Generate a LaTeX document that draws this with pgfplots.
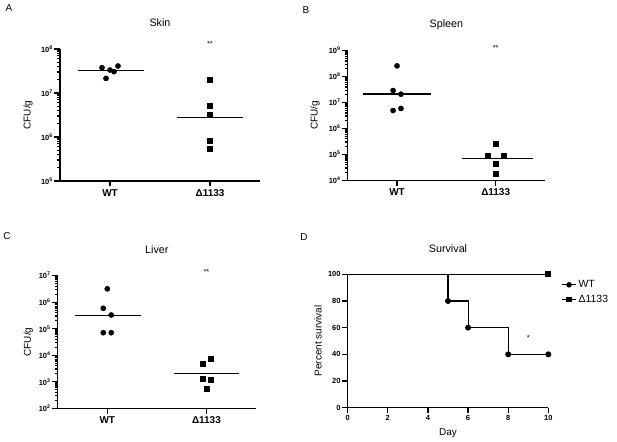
\documentclass[border=0pt]{standalone}
\usepackage{fontspec}
\setmainfont{Liberation Sans}
\usepackage{pgfplots}
\pgfplotsset{compat=1.18}
\pgfplotsset{
  myprism/.style={
    scale only axis,
    axis x line*=bottom, axis y line*=left,
    axis line style={line width=1.3bp, black},
    tick style={line width=1.3bp, black},
    tick align=outside,
    major tick length=5.5bp,
    /pgf/number format/assume math mode=true,
    tick label style={font=\bfseries\fontsize{7.5}{8}\selectfont, inner sep=1.5bp},
    title style={font=\fontsize{10.8}{12}\selectfont, at={(0.5,1)}, anchor=center, yshift=20bp},
    label style={font=\fontsize{10.5}{12}\selectfont},
    clip=false,
  },
  myscat/.style={
    myprism,
    xmin=0.5, xmax=2.5, xtick={1,2}, xticklabels={WT,Δ1133},
    xticklabel style={font=\bfseries\fontsize{10}{11}\selectfont, inner sep=2.5bp},
    ylabel={CFU/g},
    extra y tick labels={},
    extra y tick style={major tick length=3.2bp},
  },
  mymed/.style={black, line width=1.3bp, no marks},
  mywt/.style={only marks, mark=*, mark size=2.6bp, black},
  myko/.style={only marks, mark=square*, mark size=2.5bp, black},
}
\begin{document}
\begin{tikzpicture}
\useasboundingbox (0bp,0bp) rectangle (617bp,-442bp);
\node[font=\fontsize{10}{12}\selectfont] at (9bp,-8bp) {A};
\node[font=\fontsize{10}{12}\selectfont] at (306bp,-10bp) {B};
\node[font=\fontsize{10}{12}\selectfont] at (7bp,-236bp) {C};
\node[font=\fontsize{10}{12}\selectfont] at (304bp,-237bp) {D};

% A Skin
\begin{axis}[ymode=log, myscat, at={(60bp,-181bp)}, anchor=south west, width=200bp, height=132bp,
  title={Skin}, ymin=1e5, ymax=1e8,
  ytick={1e5,1e6,1e7,1e8},
  yticklabels={10\textsuperscript{5},10\textsuperscript{6},10\textsuperscript{7},10\textsuperscript{8}},
  extra y ticks={2e5,3e5,4e5,5e5,6e5,7e5,8e5,9e5,2e6,3e6,4e6,5e6,6e6,7e6,8e6,9e6,2e7,3e7,4e7,5e7,6e7,7e7,8e7,9e7},
  every axis y label/.style={at={(axis description cs:-0.16,0.5)}, rotate=90, anchor=center}]
\addplot[mywt] coordinates {(0.92,3.76e7) (0.96,2.15e7) (1.0,3.33e7) (1.04,3.06e7) (1.08,4.1e7)};
\addplot[mymed] coordinates {(0.68,3.2e7) (1.34,3.2e7)};
\addplot[myko] coordinates {(2,1.97e7) (2,5.15e6) (2,3.27e6) (2,8.26e5) (2,5.5e5)};
\addplot[mymed] coordinates {(1.67,2.8e6) (2.33,2.8e6)};
\node[font=\fontsize{7.5}{8}\selectfont] at (axis description cs:0.75,1.035) {**};
\end{axis}

% B Spleen
\begin{axis}[ymode=log, myscat, at={(347.7bp,-180.3bp)}, anchor=south west, width=197.3bp, height=129.6bp,
  title={Spleen}, ymin=1e4, ymax=1e9,
  ytick={1e4,1e5,1e6,1e7,1e8,1e9},
  yticklabels={10\textsuperscript{4},10\textsuperscript{5},10\textsuperscript{6},10\textsuperscript{7},10\textsuperscript{8},10\textsuperscript{9}},
  extra y ticks={2e4,3e4,4e4,5e4,6e4,7e4,8e4,9e4,2e5,3e5,4e5,5e5,6e5,7e5,8e5,9e5,2e6,3e6,4e6,5e6,6e6,7e6,8e6,9e6,2e7,3e7,4e7,5e7,6e7,7e7,8e7,9e7,2e8,3e8,4e8,5e8,6e8,7e8,8e8,9e8},
  every axis y label/.style={at={(axis description cs:-0.166,0.5)}, rotate=90, anchor=center}]
\addplot[mywt] coordinates {(1.0,2.6e8) (0.96,2.9e7) (1.04,2.1e7) (0.96,4.9e6) (1.04,5.9e6)};
\addplot[mymed] coordinates {(0.66,2.15e7) (1.34,2.15e7)};
\addplot[myko] coordinates {(2,2.6e5) (1.92,8.9e4) (2.08,8.9e4) (2,4.4e4) (2,1.8e4)};
\addplot[mymed] coordinates {(1.66,6.8e4) (2.38,6.8e4)};
\node[font=\fontsize{7.5}{8}\selectfont] at (axis description cs:0.75,1.025) {**};
\end{axis}

% C Liver
\begin{axis}[ymode=log, myscat, at={(57.7bp,-408.3bp)}, anchor=south west, width=198.3bp, height=132.6bp,
  title={Liver}, ymin=1e2, ymax=1e7,
  ytick={1e2,1e3,1e4,1e5,1e6,1e7},
  yticklabels={10\textsuperscript{2},10\textsuperscript{3},10\textsuperscript{4},10\textsuperscript{5},10\textsuperscript{6},10\textsuperscript{7}},
  extra y ticks={2e2,3e2,4e2,5e2,6e2,7e2,8e2,9e2,2e3,3e3,4e3,5e3,6e3,7e3,8e3,9e3,2e4,3e4,4e4,5e4,6e4,7e4,8e4,9e4,2e5,3e5,4e5,5e5,6e5,7e5,8e5,9e5,2e6,3e6,4e6,5e6,6e6,7e6,8e6,9e6},
  every axis y label/.style={at={(axis description cs:-0.148,0.5)}, rotate=90, anchor=center}]
\addplot[mywt] coordinates {(1.0,3.2e6) (0.96,5.9e5) (1.04,3.3e5) (0.96,7.1e4) (1.04,7.1e4)};
\addplot[mymed] coordinates {(0.67,3.1e5) (1.34,3.1e5)};
\addplot[myko] coordinates {(2.04,7.6e3) (1.96,4.9e3) (1.96,1.35e3) (2.04,1.15e3) (2.0,5.6e2)};
\addplot[mymed] coordinates {(1.67,2.0e3) (2.33,2.0e3)};
\node[font=\fontsize{7.5}{8}\selectfont] at (axis description cs:0.75,1.03) {**};
\end{axis}

% D Survival
\begin{axis}[myprism, at={(347.7bp,-407.7bp)}, anchor=south west, width=200.6bp, height=133.4bp,
  title={Survival}, xmin=0, xmax=10, ymin=0, ymax=100,
  xtick={0,2,4,6,8,10}, ytick={0,20,40,60,80,100},
  xticklabels={0,2,4,6,8,10}, yticklabels={0,20,40,60,80,100},
  xlabel={Day}, ylabel={Percent survival},
  every axis y label/.style={at={(axis description cs:-0.148,0.5)}, rotate=90, anchor=center},
  every axis x label/.style={at={(axis description cs:0.5,-0.19)}, anchor=center},
  legend style={draw=none, fill=none, at={(axis description cs:1.05,0.985)}, anchor=north west,
    font=\fontsize{10.5}{12}\selectfont, row sep=2bp},
  legend cell align=left,
  legend image code/.code={\draw[mark repeat=2,mark phase=2,#1] plot coordinates {(0bp,0bp) (7bp,0bp) (14bp,0bp)};}]
\addplot[forget plot, black, line width=1.1bp, const plot, mark=*, mark size=2.4bp, mark indices={2,3,4,5}]
  coordinates {(0,100) (5,80) (6,60) (8,40) (10,40)};
\addplot[forget plot, black, line width=1.1bp, mark=square*, mark size=2.4bp, mark indices={2}]
  coordinates {(0,100) (10,100)};
\addlegendimage{black, line width=1.1bp, mark=*, mark size=2.2bp}
\addlegendentry{WT}
\addlegendimage{black, line width=1.1bp, mark=square*, mark size=2.2bp}
\addlegendentry{Δ1133}
\node[font=\fontsize{7.5}{8}\selectfont] at (axis cs:9,52) {*};
\end{axis}
\end{tikzpicture}
\end{document}
